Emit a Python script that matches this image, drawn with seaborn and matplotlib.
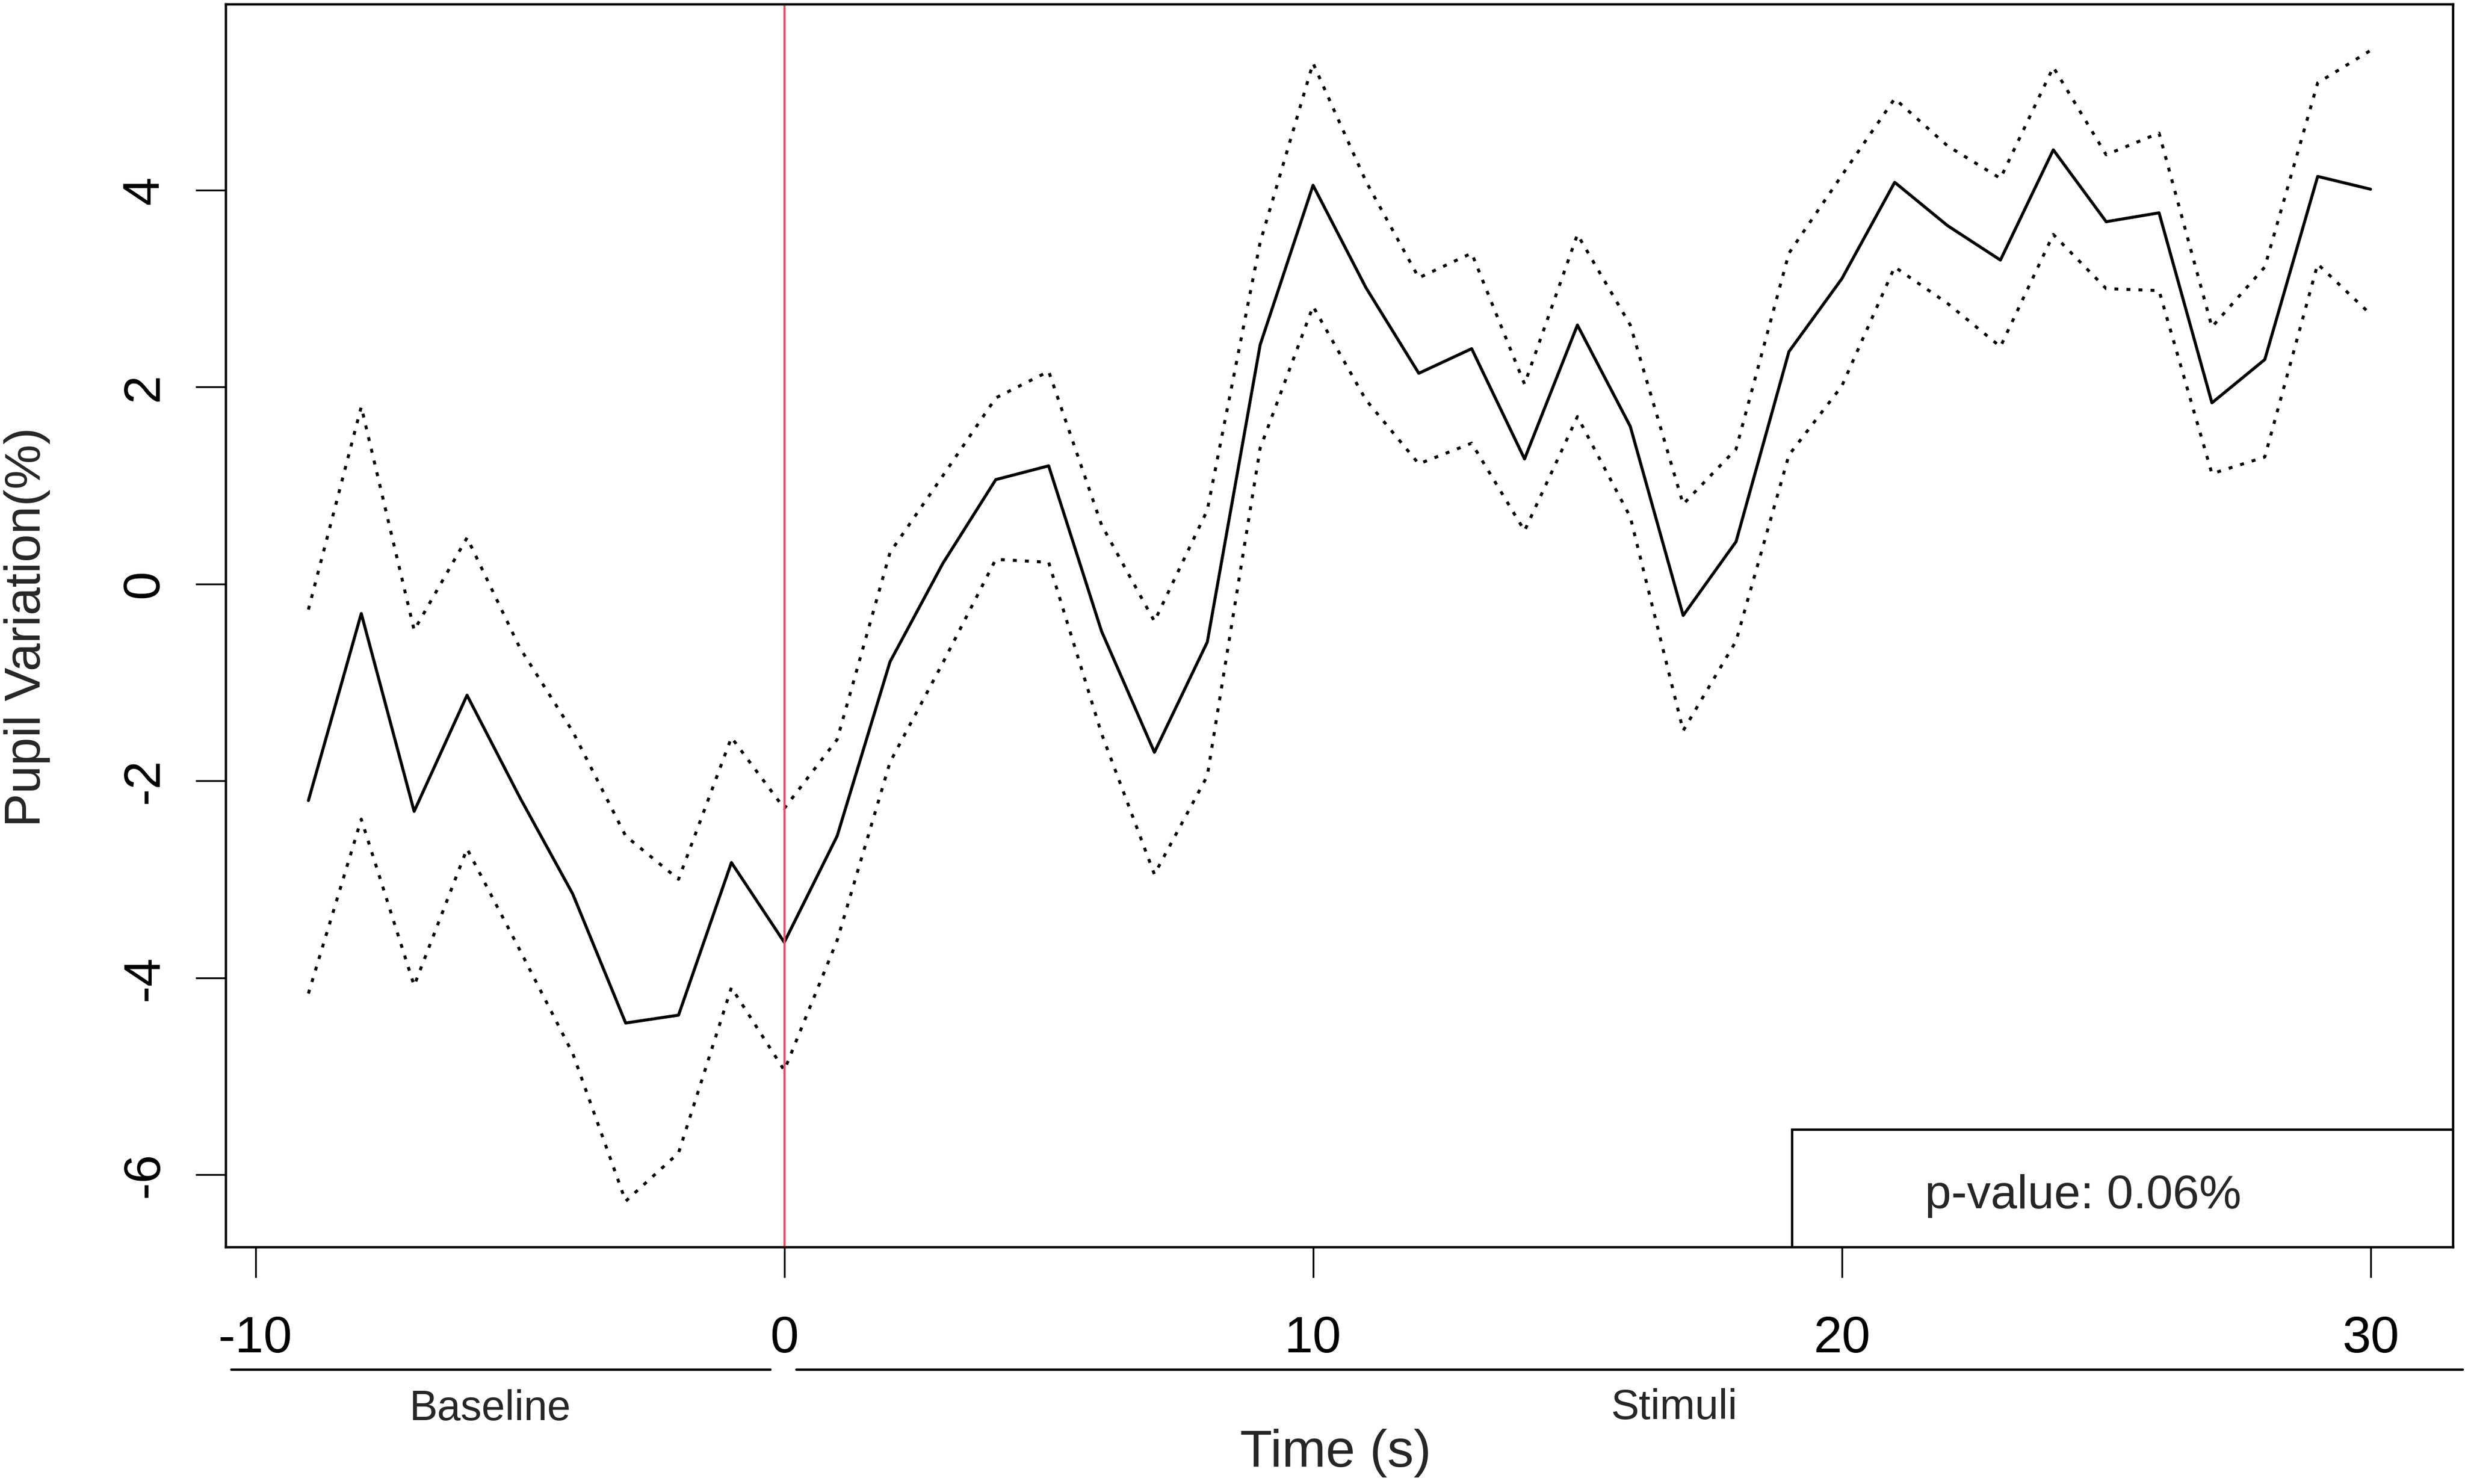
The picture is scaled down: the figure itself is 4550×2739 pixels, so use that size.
import matplotlib
matplotlib.use("Agg")
import matplotlib.pyplot as plt
from matplotlib.patches import Rectangle
import numpy as np
import pandas as pd
import seaborn as sns

# time axis (s) and pupil variation (%)
time = list(range(-9, 31))

mean_var = [-2.20, -0.30, -2.31, -1.13, -2.17, -3.15, -4.46, -4.38, -2.83, -3.64,
            -2.56, -0.79, 0.21, 1.06, 1.20, -0.48, -1.71, -0.59, 2.43, 4.05,
            3.01, 2.14, 2.39, 1.27, 2.63, 1.60, -0.32, 0.43, 2.36, 3.10,
            4.08, 3.64, 3.29, 4.41, 3.68, 3.77, 1.84, 2.28, 4.14, 4.01]

upper_ci = [-0.26, 1.80, -0.47, 0.47, -0.65, -1.50, -2.56, -3.00, -1.56, -2.28,
            -1.58, 0.32, 1.10, 1.89, 2.16, 0.60, -0.38, 0.75, 3.47, 5.29,
            4.09, 3.11, 3.36, 2.03, 3.55, 2.63, 0.81, 1.37, 3.36, 4.15,
            4.93, 4.45, 4.12, 5.25, 4.36, 4.58, 2.61, 3.22, 5.09, 5.42]

lower_ci = [-4.16, -2.39, -4.08, -2.69, -3.72, -4.77, -6.27, -5.78, -4.10, -4.94,
            -3.62, -1.81, -0.80, 0.25, 0.22, -1.52, -2.95, -1.95, 1.38, 2.82,
            1.87, 1.22, 1.43, 0.54, 1.70, 0.68, -1.49, -0.58, 1.31, 2.01,
            3.22, 2.85, 2.41, 3.55, 3.00, 2.98, 1.12, 1.29, 3.25, 2.74]

x_ticks = [-10, 0, 10, 20, 30]
y_ticks = [-6, -4, -2, 0, 2, 4]
stimulus_onset = 0
p_value_text = "p-value: 0.06%"

df = pd.DataFrame({"time": time, "mean": mean_var, "upper": upper_ci, "lower": lower_ci})

sns.set_theme(style="white")
plt.rcParams['font.family'] = ['Liberation Sans', 'DejaVu Sans']
plt.rcParams['axes.unicode_minus'] = False

fig = plt.figure(figsize=(45.5, 27.39), dpi=100)
ax = fig.add_axes([0.09165, 0.15955, 0.9035, 0.8375])

dotted = (0, (1.3, 2.7))
sns.lineplot(data=df, x="time", y="mean", color="black", linewidth=4.0, ax=ax)
sns.lineplot(data=df, x="time", y="upper", color="black", linewidth=4.0, linestyle=dotted, ax=ax)
sns.lineplot(data=df, x="time", y="lower", color="black", linewidth=4.0, linestyle=dotted, ax=ax)
ax.axvline(stimulus_onset, color="#DF536B", linewidth=2.8)

# R style 4% padding of the data range
xr = max(time) - min(time)
ax.set_xlim(min(time) - 0.04 * xr, max(time) + 0.04 * xr)
ymin, ymax = min(lower_ci), max(upper_ci)
yr = ymax - ymin
ax.set_ylim(ymin - 0.04 * yr, ymax + 0.04 * yr)

for sp in ax.spines.values():
    sp.set_visible(True)
    sp.set_color("black")
    sp.set_linewidth(3.2)

ax.set_xticks(x_ticks)
ax.set_yticks(y_ticks)
ax.set_xticklabels([str(v) for v in x_ticks])
ax.set_yticklabels([str(v) for v in y_ticks], rotation=90, va="center")
ax.tick_params(axis="both", direction="out", length=40, width=2.4, color="black",
               labelsize=68, labelcolor="black", bottom=True, left=True)
ax.tick_params(axis="x", pad=50)
ax.tick_params(axis="y", pad=36)
ax.set_xlabel("")
ax.set_ylabel("")

# p-value box in the lower right corner
ax.add_patch(Rectangle((0.7032, 0.0), 0.2968, 0.0946, transform=ax.transAxes,
                       facecolor="white", edgecolor="black", linewidth=3.2, zorder=5))
ax.text(0.8339, 0.0414, p_value_text, transform=ax.transAxes, ha="center", va="center",
        fontsize=63, zorder=6)

# period brackets under the x axis
trans = ax.get_xaxis_transform()
ax.plot([-10.46, -0.26], [-0.0985, -0.0985], transform=trans, color="black",
        linewidth=3.2, clip_on=False)
ax.plot([0.23, 31.75], [-0.0985, -0.0985], transform=trans, color="black",
        linewidth=3.2, clip_on=False)
fig.text(905 / 4550, 1 - 2600 / 2739, "Baseline", ha="center", va="center", fontsize=56)
fig.text(3090 / 4550, 1 - 2598 / 2739, "Stimuli", ha="center", va="center", fontsize=56)

fig.text(2465 / 4550, 1 - 2682 / 2739, "Time (s)", ha="center", va="center", fontsize=70)
fig.text(50 / 4550, 1 - 1157 / 2739, "Pupil Variation(%)", ha="center", va="center",
         rotation=90, fontsize=67)

fig.savefig("out.png", dpi=100, facecolor="white")
